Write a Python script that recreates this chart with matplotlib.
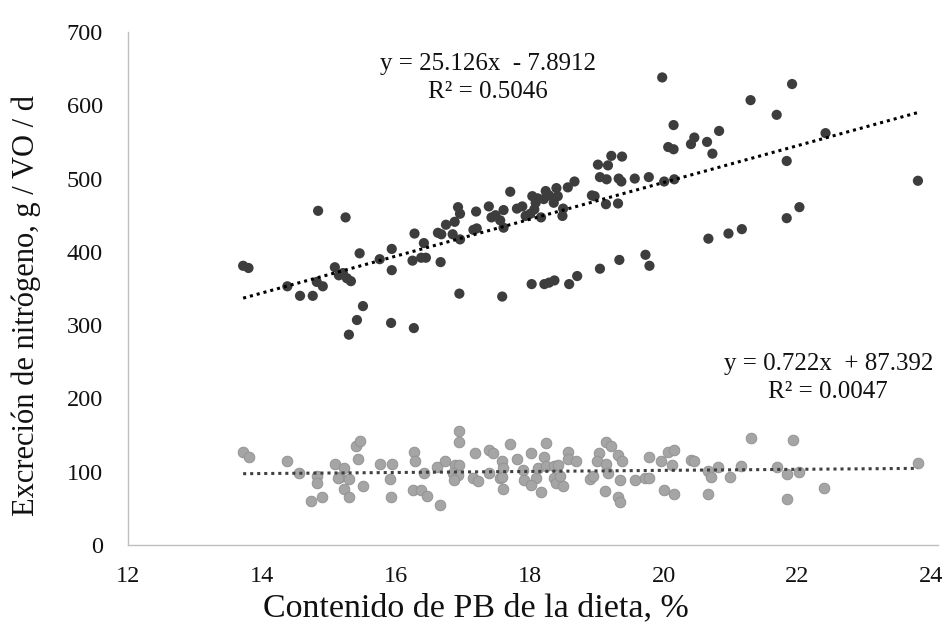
import numpy as np
import matplotlib.pyplot as plt

plt.rcParams['font.family'] = ['Liberation Serif', 'DejaVu Serif']

# excreción total (puntos oscuros): PB de la dieta (%) y N excretado (g/VO/d)
pb_total = [13.72, 13.80, 14.38, 14.57, 14.76, 14.84, 14.82, 14.91, 15.09, 15.15,
            15.21, 15.27, 15.33, 15.25, 15.46, 15.51, 15.42, 15.30, 15.76, 15.94,
            15.94, 15.93, 16.27, 16.25, 16.28, 16.42, 16.38, 16.45, 16.67, 16.63,
            16.68, 16.75, 16.85, 16.88, 16.93, 16.96, 16.96, 16.95, 17.16, 17.21,
            17.20, 17.39, 17.43, 17.49, 17.56, 17.61, 17.61, 17.59, 17.71, 17.81,
            17.89, 17.94, 18.04, 18.01, 18.07, 18.09, 18.12, 18.17, 18.24, 18.21,
            18.29, 18.36, 18.40, 18.42, 18.50, 18.49, 18.57, 18.67, 18.93, 18.97,
            19.02, 19.17, 19.22, 19.38, 19.05, 19.15, 19.14, 19.32, 19.33, 19.37,
            19.57, 19.78, 18.03, 18.22, 18.29, 18.37, 18.59, 18.71, 19.05, 19.34,
            19.73, 19.79, 19.98, 20.15, 20.07, 20.15, 20.01, 20.16, 20.41, 20.46,
            20.65, 20.73, 20.83, 21.30, 21.69, 21.92, 22.42, 21.84, 23.80, 22.03,
            21.84, 21.17, 20.97, 20.67]
n_total = [381, 378, 353, 340, 340, 456, 359, 353, 379, 368,
           371, 364, 360, 447, 398, 326, 307, 287, 390, 404,
           375, 303, 296, 388, 425, 412, 392, 392, 386, 426,
           424, 437, 424, 441, 461, 452, 417, 343, 430, 432,
           455, 462, 447, 450, 443, 457, 433, 339, 482, 459,
           462, 449, 476, 452, 458, 467, 473, 447, 483, 472,
           477, 467, 487, 476, 459, 449, 488, 496, 477, 476,
           519, 518, 531, 530, 502, 499, 465, 466, 500, 496,
           500, 502, 356, 356, 358, 361, 356, 367, 377, 389,
           396, 381, 638, 573, 543, 540, 496, 499, 547, 556,
           550, 534, 565, 607, 587, 629, 562, 524, 497, 461,
           446, 431, 425, 418]

# segunda serie (puntos grises)
pb_gris = [13.72, 13.81, 14.37, 14.56, 14.82, 14.83, 14.74, 14.90, 15.09, 15.16,
           15.14, 15.23, 15.30, 15.23, 15.30, 15.40, 15.47, 15.44, 15.51, 15.76,
           15.95, 15.91, 15.93, 16.27, 16.28, 16.42, 16.25, 16.37, 16.46, 16.66,
           16.62, 16.73, 16.95, 16.95, 16.88, 16.95, 16.86, 16.93, 16.87, 17.19,
           17.15, 17.23, 17.39, 17.45, 17.40, 17.58, 17.60, 17.55, 17.59, 17.60,
           17.70, 17.81, 17.90, 17.91, 18.02, 18.09, 18.02, 18.12, 18.17, 18.21,
           18.24, 18.25, 18.37, 18.42, 18.36, 18.39, 18.50, 18.45, 18.57, 18.57,
           18.69, 18.90, 18.95, 19.03, 19.00, 19.14, 19.22, 19.14, 19.17, 19.32,
           19.38, 19.35, 19.13, 19.32, 19.35, 19.57, 19.72, 19.78, 19.79, 19.96,
           20.07, 20.15, 20.13, 20.01, 20.15, 20.41, 20.46, 20.66, 20.71, 20.67,
           20.81, 20.99, 21.16, 21.30, 21.69, 21.84, 21.84, 21.93, 22.02, 22.39,
           23.80]
n_gris = [127, 120, 114, 98, 94, 85, 60, 66, 110, 93,
          91, 105, 90, 76, 66, 135, 142, 117, 81, 110,
          110, 90, 66, 127, 114, 98, 75, 75, 67, 54,
          106, 115, 156, 140, 109, 109, 98, 96, 89, 125,
          92, 88, 130, 125, 98, 115, 105, 91, 93, 76,
          138, 117, 103, 89, 126, 91, 82, 105, 73, 120,
          139, 108, 108, 109, 91, 84, 80, 94, 127, 118,
          114, 90, 94, 125, 114, 140, 135, 111, 98, 123,
          114, 89, 74, 66, 58, 89, 92, 92, 120, 114,
          127, 129, 109, 75, 70, 116, 115, 101, 93, 70,
          107, 93, 108, 146, 106, 97, 63, 143, 100, 78,
          112]

# rectas de tendencia (pendiente, intercepto, R2)
a1, b1, r2_1 = 25.126, -7.8912, 0.5046
a2, b2, r2_2 = 0.722, 87.392, 0.0047

W, H = 942, 634
fig = plt.figure(figsize=(W / 100, H / 100), dpi=100)
ax = fig.add_axes([128 / W, 1 - 545 / H, (938 - 128) / W, (545 - 32) / H])

ax.scatter(pb_gris, n_gris, s=58, color='#a5a5a5', edgecolors='#939393',
           linewidths=0.7, zorder=2)
ax.scatter(pb_total, n_total, s=54, color='#3d3d3d', edgecolors='none', zorder=3)

x1 = np.array([min(pb_total), max(pb_total)])
ax.plot(x1, a1 * x1 + b1, color='black', lw=2.2, linestyle=(0, (1, 1.3)), zorder=4)
x2 = np.array([min(pb_gris), max(pb_gris)])
ax.plot(x2, a2 * x2 + b2, color='#404040', lw=2.2, linestyle=(0, (1, 1.3)), zorder=4)

ax.text(17.38, 637, 'y = %.3fx  - %.4f\nR² = %.4f' % (a1, -b1, r2_1),
        ha='center', va='center', fontsize=18, linespacing=1.32, color='#111111')
ax.text(22.46, 228, 'y = %.3fx  + %.3f\nR² = %.4f' % (a2, b2, r2_2),
        ha='center', va='center', fontsize=18, linespacing=1.32, color='#111111')

ax.set_xlim(12, 24.1)
ax.set_ylim(0, 700)
ax.set_xticks(range(12, 25, 2))
ax.set_yticks(range(0, 701, 100))
ax.tick_params(length=0, labelsize=17.5, colors='#111111')
ax.tick_params(axis='y', pad=18)
ax.tick_params(axis='x', pad=15)

for side in ['top', 'right']:
    ax.spines[side].set_visible(False)
for side in ['left', 'bottom']:
    ax.spines[side].set_color('#bfbfbf')
    ax.spines[side].set_linewidth(1.0)

# títulos de ejes colocados a mano
fig.text(476 / W, 1 - 608 / H, 'Contenido de PB de la dieta, %', fontsize=24.5,
         ha='center', va='center', color='#111111')
fig.text(26 / W, 1 - 305 / H, 'Excreción de nitrógeno, g / VO / d', fontsize=22,
         ha='center', va='center', rotation=90, color='#111111')

fig.savefig('out.png', dpi=100)
